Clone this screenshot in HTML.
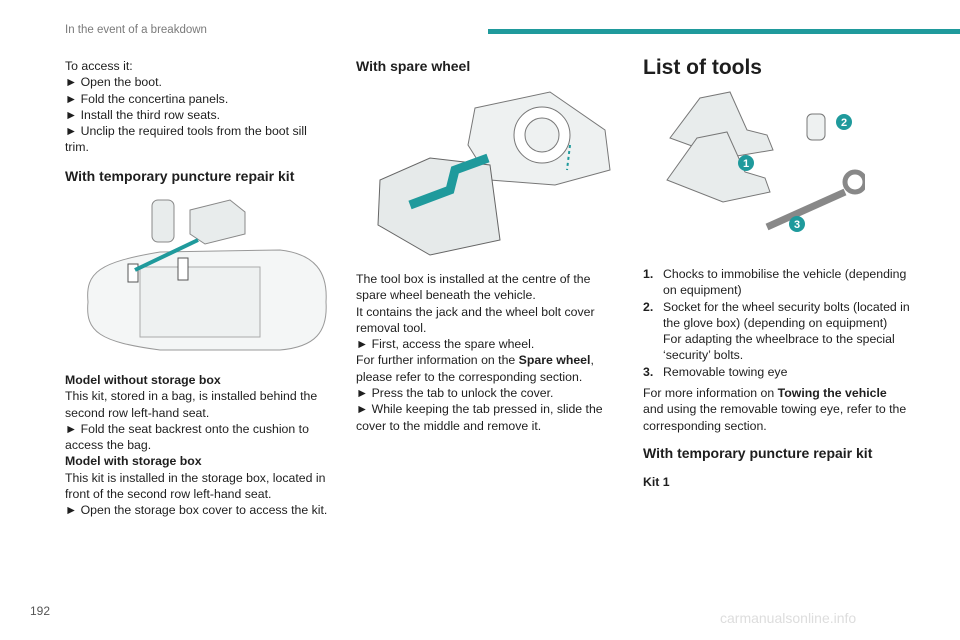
<!DOCTYPE html>
<html><head><meta charset="utf-8"><style>
body{margin:0;width:960px;height:640px;background:#fff;position:relative;overflow:hidden;font-family:"Liberation Sans",Arial,sans-serif;color:#1e1e1e}
.a{position:absolute}
.t{font-size:12.3px;line-height:16.3px;white-space:nowrap}
.h{font-size:14px;font-weight:bold}
b{font-weight:bold}
.n{display:inline-block;width:20px;font-weight:bold}
.ind{padding-left:20px}
</style></head><body>
<div class="a" style="left:65px;top:24px;font-size:11.5px;color:#7a7a7a">In the event of a breakdown</div>
<div class="a" style="left:488px;top:29px;width:472px;height:5px;background:#1f9a9c"></div>
<div class="a" style="left:30px;top:604px;font-size:12px;color:#555">192</div>

<div class="a t" style="left:65px;top:58px">To access it:<br>► Open the boot.<br>► Fold the concertina panels.<br>► Install the third row seats.<br>► Unclip the required tools from the boot sill<br>trim.</div>
<div class="a h" style="left:65px;top:168px">With temporary puncture repair kit</div>
<svg class="a" style="left:80px;top:192px" width="250" height="160">
<rect x="72" y="8" width="22" height="42" rx="6" fill="#e8ecec" stroke="#888"/>
<path d="M110 18 L150 8 L165 20 L165 42 L125 52 L110 42Z" fill="#e8ecec" stroke="#888"/>
<path d="M8 110 C5 80 20 70 80 60 L200 58 C235 62 248 80 246 110 C248 140 235 155 200 158 L80 158 C20 150 5 140 8 110Z" fill="#f4f6f6" stroke="#999"/>
<rect x="60" y="75" width="120" height="70" fill="#eef1f1" stroke="#aaa"/>
<rect x="48" y="72" width="10" height="18" fill="#fff" stroke="#555"/>
<rect x="98" y="66" width="10" height="22" fill="#fff" stroke="#555"/>
<path d="M55 78 L118 48" stroke="#1f9a9c" stroke-width="4"/>
</svg>
<div class="a t" style="left:65px;top:372px"><b>Model without storage box</b><br>This kit, stored in a bag, is installed behind the<br>second row left-hand seat.<br>► Fold the seat backrest onto the cushion to<br>access the bag.<br><b>Model with storage box</b><br>This kit is installed in the storage box, located in<br>front of the second row left-hand seat.<br>► Open the storage box cover to access the kit.</div>

<div class="a h" style="left:356px;top:58px">With spare wheel</div>
<svg class="a" style="left:370px;top:90px" width="250" height="170">
<path d="M105 18 L180 2 L235 40 L240 80 L185 95 L120 90 L98 55Z" fill="#eef1f1" stroke="#777"/>
<circle cx="172" cy="45" r="28" fill="#fff" stroke="#777"/>
<circle cx="172" cy="45" r="17" fill="#eef1f1" stroke="#777"/>
<path d="M10 90 L60 68 L120 75 L130 150 L60 165 L8 135Z" fill="#e6eaea" stroke="#666"/>
<path d="M40 115 L80 100 L85 80 L118 68" stroke="#1f9a9c" stroke-width="9" fill="none"/>
<path d="M200 55 L197 80" stroke="#1f9a9c" stroke-width="2" stroke-dasharray="3 3"/>
</svg>
<div class="a t" style="left:356px;top:271px">The tool box is installed at the centre of the<br>spare wheel beneath the vehicle.<br>It contains the jack and the wheel bolt cover<br>removal tool.<br>► First, access the spare wheel.<br>For further information on the <b>Spare wheel</b>,<br>please refer to the corresponding section.<br>► Press the tab to unlock the cover.<br>► While keeping the tab pressed in, slide the<br>cover to the middle and remove it.</div>

<div class="a" style="left:643px;top:56px;font-size:21px;font-weight:bold">List of tools</div>
<svg class="a" style="left:655px;top:90px" width="210" height="150">
<path d="M45 8 L75 2 L92 40 L112 45 L118 60 L70 68 L15 48Z" fill="#e8ecec" stroke="#777"/>
<path d="M42 48 L72 42 L90 82 L110 88 L115 102 L68 112 L12 90Z" fill="#e8ecec" stroke="#777"/>
<circle cx="91" cy="73" r="8" fill="#1f9a9c"/><text x="91" y="77" fill="#fff" font-size="11" font-weight="bold" text-anchor="middle" font-family="Liberation Sans">1</text>
<rect x="152" y="24" width="18" height="26" rx="5" fill="#eef1f1" stroke="#777"/>
<circle cx="189" cy="32" r="8" fill="#1f9a9c"/><text x="189" y="36" fill="#fff" font-size="11" font-weight="bold" text-anchor="middle" font-family="Liberation Sans">2</text>
<path d="M112 137 L190 102" stroke="#888" stroke-width="7"/>
<circle cx="200" cy="92" r="10" fill="none" stroke="#888" stroke-width="5"/>
<circle cx="142" cy="134" r="8" fill="#1f9a9c"/><text x="142" y="138" fill="#fff" font-size="11" font-weight="bold" text-anchor="middle" font-family="Liberation Sans">3</text>
</svg>
<div class="a t" style="left:643px;top:266px"><span class="n">1.</span>Chocks to immobilise the vehicle (depending<br><span class="ind">on equipment)</span><br><span class="n">2.</span>Socket for the wheel security bolts (located in<br><span class="ind">the glove box) (depending on equipment)</span><br><span class="ind">For adapting the wheelbrace to the special</span><br><span class="ind">‘security’ bolts.</span><br><span class="n">3.</span>Removable towing eye</div>
<div class="a t" style="left:643px;top:385px">For more information on <b>Towing the vehicle</b><br>and using the removable towing eye, refer to the<br>corresponding section.</div>
<div class="a h" style="left:643px;top:445px">With temporary puncture repair kit</div>
<div class="a" style="left:643px;top:475px;font-size:12.3px;font-weight:bold">Kit 1</div>
<div class="a" style="left:720px;top:610px;font-size:14px;color:#ddd">carmanualsonline.info</div>
</body></html>
